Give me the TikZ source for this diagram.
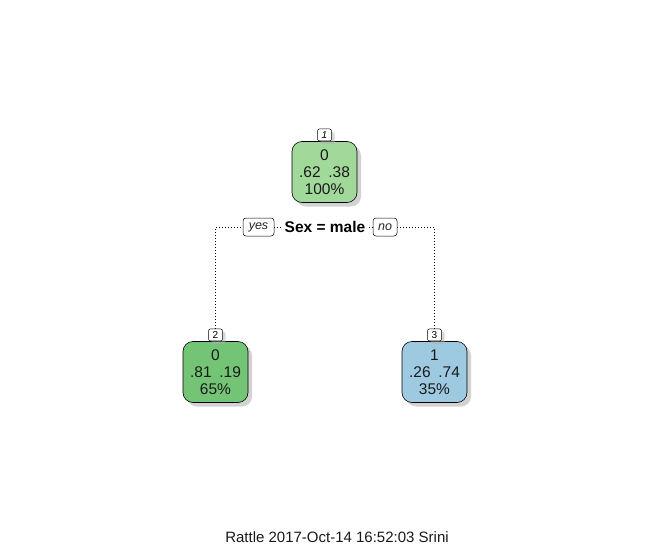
\documentclass[tikz,border=0pt]{standalone}
\usepackage{fontspec}
\setmainfont{Liberation Sans}
\usetikzlibrary{shadows}

\definecolor{rootgreen}{RGB}{161,217,155}
\definecolor{leafgreen}{RGB}{116,196,118}
\definecolor{leafblue}{RGB}{158,202,225}

\begin{document}
\begin{tikzpicture}[x=1pt, y=-1pt, line join=round,
    treenode/.style={draw=black, line width=0.6pt, rounded corners=10pt,
      minimum width=65pt, minimum height=61pt, inner sep=0pt, align=center,
      font=\fontsize{15.5}{17}\selectfont, text=black!90,
      drop shadow={shadow xshift=4pt, shadow yshift=-4pt, fill=black!35}},
    numbox/.style={draw=black, line width=0.5pt, fill=white, rounded corners=2pt,
      minimum width=14pt, minimum height=12pt, inner sep=1pt,
      font=\fontsize{10}{10}\selectfont,
      drop shadow={shadow xshift=3pt, shadow yshift=-3pt, fill=black!30}},
    branchbox/.style={draw=black, line width=0.5pt, fill=white, rounded corners=3pt,
      minimum height=18pt, inner sep=2pt, font=\fontsize{12.5}{12.5}\selectfont\itshape,
      text=black!85},
    branch/.style={line width=0.8pt, dash pattern=on 0.8pt off 2.2pt}]

% ---------- canvas ----------
\useasboundingbox (0,0) rectangle (649,549);

% ---------- nodes ----------
\node[treenode, fill=rootgreen] (root) at (324.5,172) {0\\.62\enspace.38\\100\%};
\node[numbox, anchor=south] (num1) at (root.north) {\itshape 1};

\node[treenode, fill=leafgreen] (left) at (215.5,372) {0\\.81\enspace.19\\65\%};
\node[numbox, anchor=south] (num2) at (left.north) {2};

\node[treenode, fill=leafblue] (right) at (434.5,372) {1\\.26\enspace.74\\35\%};
\node[numbox, anchor=south] (num3) at (right.north) {3};

% ---------- split ----------
\node[font=\fontsize{15.5}{15.5}\selectfont\bfseries] (split) at (325,227) {Sex = male};
\node[branchbox, minimum width=31pt] (yes) at (258.5,227) {yes};
\node[branchbox, minimum width=24pt] (no) at (385,227) {no};

\coordinate (yescorner) at (num2.north |- yes);
\coordinate (nocorner) at (num3.north |- no);

\draw[branch] (num2.north) -- (yescorner) -- (yes.west);
\draw[branch] (yes.east) -- (split.west);
\draw[branch] (split.east) -- (no.west);
\draw[branch] (no.east) -- (nocorner) -- (num3.north);

% ---------- footer ----------
\node[font=\fontsize{15}{15}\selectfont, text=black!90] (footer) at (337,537) {Rattle 2017-Oct-14 16:52:03 Srini};

\end{tikzpicture}
\end{document}
